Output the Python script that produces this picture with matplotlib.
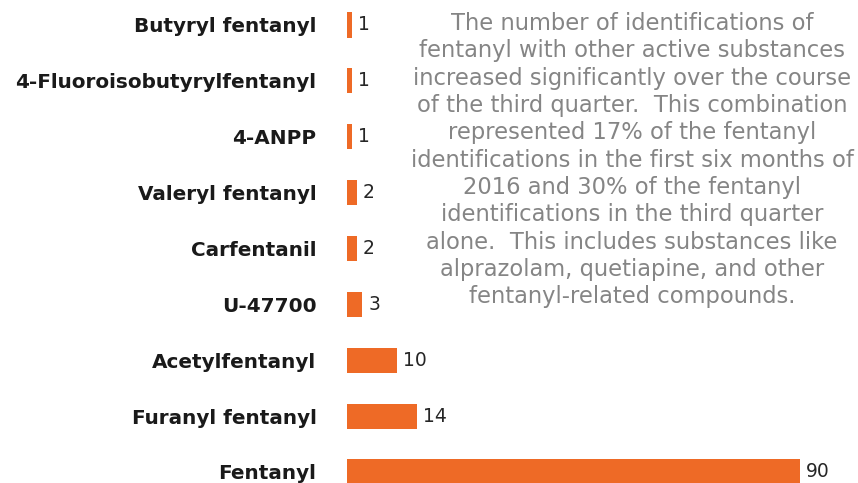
import matplotlib.pyplot as plt

plt.rcParams['font.family'] = ['DejaVu Sans']

# substances and their identification counts (top to bottom in the chart)
substances = ["Butyryl fentanyl", "4-Fluoroisobutyrylfentanyl", "4-ANPP",
              "Valeryl fentanyl", "Carfentanil", "U-47700", "Acetylfentanyl",
              "Furanyl fentanyl", "Fentanyl"]
counts = [1, 1, 1, 2, 2, 3, 10, 14, 90]

note = ("The number of identifications of\n"
        "fentanyl with other active substances\n"
        "increased significantly over the course\n"
        "of the third quarter.  This combination\n"
        "represented 17% of the fentanyl\n"
        "identifications in the first six months of\n"
        "2016 and 30% of the fentanyl\n"
        "identifications in the third quarter\n"
        "alone.  This includes substances like\n"
        "alprazolam, quetiapine, and other\n"
        "fentanyl-related compounds.")

bar_color = "#EE6A26"

fig = plt.figure(figsize=(8.58, 4.83), dpi=100)
ax = fig.add_axes([347 / 858, 0, 511 / 858, 1])

# Fentanyl at the bottom
ypos = list(range(len(substances)))[::-1]
ax.barh(ypos, counts, height=0.45, color=bar_color)

for y, v in zip(ypos, counts):
    ax.text(v + 1.2, y, str(v), va="center", ha="left",
            fontsize=13.5, color="#262626")

ax.set_yticks(ypos)
ax.set_yticklabels(substances, fontsize=14.4, fontweight="bold", color="#1a1a1a")
ax.tick_params(axis="y", length=0, pad=22)
ax.set_xticks([])
ax.set_xlim(0, 101.6)
ax.set_ylim(-0.197, 8.447)
for s in ax.spines.values():
    s.set_visible(False)

fig.text(632 / 858, 1 - 12 / 483, note, ha="center", va="top",
         fontsize=16.3, color="#858585", linespacing=1.24)

plt.savefig("out.png", dpi=100)
